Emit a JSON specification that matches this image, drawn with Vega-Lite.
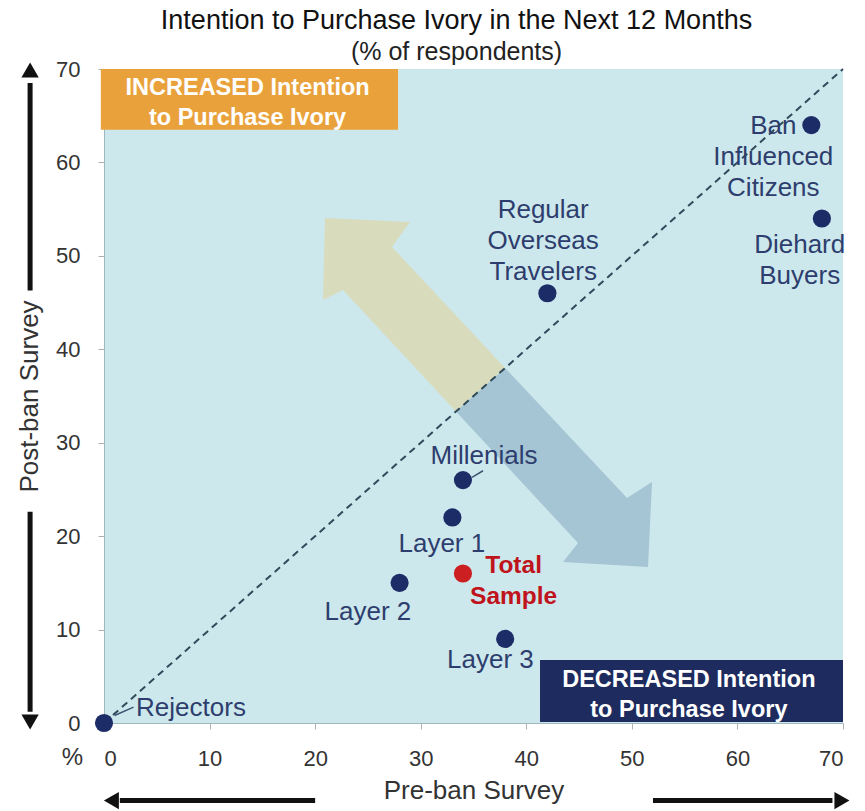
{
  "$schema": "https://vega.github.io/schema/vega-lite/v6.json",
  "width": 739,
  "height": 654,
  "autosize": "none",
  "padding": {"left": 104, "top": 69, "right": 22, "bottom": 88},
  "background": "white",
  "config": {
    "view": {"fill": "#cde8ec", "stroke": null},
    "font": "Liberation Sans",
    "axis": {
      "labelFont": "Liberation Sans",
      "titleFont": "Liberation Sans",
      "labelColor": "#333333",
      "titleColor": "#333333",
      "labelFontSize": 22,
      "titleFontSize": 26,
      "titleFontWeight": "normal",
      "domainColor": "#9fb7bf",
      "tickColor": "#b0b0b0",
      "tickSize": 6,
      "tickCount": 7,
      "grid": false
    },
    "axisX": {"labelPadding": 19, "titlePadding": 8},
    "axisY": {"labelPadding": 18, "titlePadding": 13}
  },
  "title": {
    "text": "Intention to Purchase Ivory in the Next 12 Months",
    "subtitle": "(% of respondents)",
    "font": "Liberation Sans",
    "fontSize": 27,
    "fontWeight": "normal",
    "subtitleFont": "Liberation Sans",
    "subtitleFontSize": 25,
    "color": "#111111",
    "subtitleColor": "#222222",
    "anchor": "middle",
    "frame": "group",
    "dx": -17,
    "offset": -8,
    "subtitlePadding": 5
  },
  "datasets": {
    "segments": [
      {"name": "Rejectors", "pre": 0, "post": 0, "grp": "segment", "label": "Rejectors", "lx": 8.24, "ly": 1.6},
      {"name": "Layer 2", "pre": 28, "post": 15, "grp": "segment", "label": "Layer 2", "lx": 25.0, "ly": 11.9},
      {"name": "Layer 1", "pre": 33, "post": 22, "grp": "segment", "label": "Layer 1", "lx": 32.0, "ly": 19.2},
      {"name": "Millenials", "pre": 34, "post": 26, "grp": "segment", "label": "Millenials", "lx": 36.0, "ly": 28.6},
      {"name": "Layer 3", "pre": 38, "post": 9, "grp": "segment", "label": "Layer 3", "lx": 36.6, "ly": 6.7},
      {"name": "Regular Overseas Travelers", "pre": 42, "post": 46, "grp": "segment", "label": "Regular\nOverseas\nTravelers", "lx": 41.6, "ly": 54.9},
      {"name": "Ban Influenced Citizens", "pre": 67, "post": 64, "grp": "segment", "label": "Ban\nInfluenced\nCitizens", "lx": 63.4, "ly": 63.9},
      {"name": "Diehard Buyers", "pre": 68, "post": 54, "grp": "segment", "label": "Diehard\nBuyers", "lx": 65.9, "ly": 51.2},
      {"name": "Total Sample", "pre": 34, "post": 16, "grp": "total", "label": "Total\nSample", "lx": 38.8, "ly": 16.8}
    ],
    "bigArrow": [
      {"part": "up", "i": 1, "x": 38.0, "y": 38.0},
      {"part": "up", "i": 2, "x": 27.28, "y": 50.95},
      {"part": "up", "i": 3, "x": 28.99, "y": 53.62},
      {"part": "up", "i": 4, "x": 20.93, "y": 54.05},
      {"part": "up", "i": 5, "x": 20.74, "y": 45.27},
      {"part": "up", "i": 6, "x": 22.64, "y": 46.35},
      {"part": "up", "i": 7, "x": 33.34, "y": 33.34},
      {"part": "down", "i": 1, "x": 38.0, "y": 38.0},
      {"part": "down", "i": 2, "x": 49.54, "y": 24.08},
      {"part": "down", "i": 3, "x": 51.91, "y": 25.79},
      {"part": "down", "i": 4, "x": 51.53, "y": 16.7},
      {"part": "down", "i": 5, "x": 43.48, "y": 17.23},
      {"part": "down", "i": 6, "x": 44.9, "y": 19.27},
      {"part": "down", "i": 7, "x": 33.34, "y": 33.34}
    ],
    "diagonal": [{"x": 0, "y": 0}, {"x": 70, "y": 70}],
    "boxes": [
      {"box": "increased", "x": -0.3, "x2": 27.85, "y": 63.5, "y2": 70, "text": "INCREASED Intention\nto Purchase Ivory", "tx": 13.6, "ty": 68.0},
      {"box": "decreased", "x": 41.3, "x2": 70, "y": 0.1, "y2": 6.74, "text": "DECREASED Intention\nto Purchase Ivory", "tx": 55.4, "ty": 4.6}
    ],
    "leaders": [
      {"x": 34.86, "y": 26.3, "x2": 35.9, "y2": 27.0},
      {"x": 1.0, "y": 0.8, "x2": 2.8, "y2": 1.7}
    ],
    "outerShafts": [
      {"x": -7, "y": 46.3, "x2": -7, "y2": 68.5},
      {"x": -7, "y": 22.6, "x2": -7, "y2": 1.2},
      {"x": 20, "y": -8.3, "x2": 1.5, "y2": -8.3},
      {"x": 52.0, "y": -8.3, "x2": 69.0, "y2": -8.3}
    ],
    "outerHeads": [
      {"x": -7, "y": 69.9, "dir": "up"},
      {"x": -7, "y": 0.1, "dir": "down"},
      {"x": 0.7, "y": -8.3, "dir": "left"},
      {"x": 69.9, "y": -8.3, "dir": "right"}
    ],
    "pct": [{"x": -3.0, "y": -3.75, "t": "%"}]
  },
  "layer": [
    {
      "data": {"name": "bigArrow"},
      "transform": [{"filter": "datum.part === 'up'"}],
      "mark": {"type": "line", "fill": "#d8dcbd", "strokeOpacity": 0, "interpolate": "linear"},
      "encoding": {
        "x": {"field": "x", "type": "quantitative", "title": "Pre-ban Survey", "scale": {"domain": [0, 70], "nice": false}},
        "y": {"field": "y", "type": "quantitative", "title": "Post-ban Survey", "scale": {"domain": [0, 70], "nice": false}},
        "order": {"field": "i", "type": "quantitative"}
      }
    },
    {
      "data": {"name": "bigArrow"},
      "transform": [{"filter": "datum.part === 'down'"}],
      "mark": {"type": "line", "fill": "#a5c4d4", "strokeOpacity": 0, "interpolate": "linear"},
      "encoding": {
        "x": {"field": "x", "type": "quantitative", "title": "Pre-ban Survey", "scale": {"domain": [0, 70], "nice": false}},
        "y": {"field": "y", "type": "quantitative", "title": "Post-ban Survey", "scale": {"domain": [0, 70], "nice": false}},
        "order": {"field": "i", "type": "quantitative"}
      }
    },
    {
      "data": {"name": "diagonal"},
      "mark": {"type": "line", "color": "#2f4a5a", "strokeWidth": 2, "strokeDash": [7, 5]},
      "encoding": {
        "x": {"field": "x", "type": "quantitative", "title": "Pre-ban Survey", "scale": {"domain": [0, 70], "nice": false}},
        "y": {"field": "y", "type": "quantitative", "title": "Post-ban Survey", "scale": {"domain": [0, 70], "nice": false}}
      }
    },
    {
      "data": {"name": "boxes"},
      "mark": {"type": "rect"},
      "encoding": {
        "x": {"field": "x", "type": "quantitative", "title": "Pre-ban Survey", "scale": {"domain": [0, 70], "nice": false}},
        "x2": {"field": "x2"},
        "y": {"field": "y", "type": "quantitative", "title": "Post-ban Survey", "scale": {"domain": [0, 70], "nice": false}},
        "y2": {"field": "y2"},
        "fill": {"field": "box", "type": "nominal", "scale": {"domain": ["increased", "decreased"], "range": ["#e9a23b", "#1d2b5e"]}, "legend": null}
      }
    },
    {
      "data": {"name": "boxes"},
      "mark": {"type": "text", "color": "white", "fontWeight": "bold", "fontSize": 23.5, "lineHeight": 30, "lineBreak": "\n", "align": "center", "baseline": "middle"},
      "encoding": {
        "x": {"field": "tx", "type": "quantitative", "title": "Pre-ban Survey", "scale": {"domain": [0, 70], "nice": false}},
        "y": {"field": "ty", "type": "quantitative", "title": "Post-ban Survey", "scale": {"domain": [0, 70], "nice": false}},
        "text": {"field": "text"}
      }
    },
    {
      "data": {"name": "leaders"},
      "mark": {"type": "rule", "color": "#3d5470", "strokeWidth": 1.5},
      "encoding": {
        "x": {"field": "x", "type": "quantitative", "title": "Pre-ban Survey", "scale": {"domain": [0, 70], "nice": false}},
        "y": {"field": "y", "type": "quantitative", "title": "Post-ban Survey", "scale": {"domain": [0, 70], "nice": false}},
        "x2": {"field": "x2"},
        "y2": {"field": "y2"}
      }
    },
    {
      "data": {"name": "segments"},
      "mark": {"type": "circle", "size": 330, "opacity": 1},
      "encoding": {
        "x": {"field": "pre", "type": "quantitative", "title": "Pre-ban Survey", "scale": {"domain": [0, 70], "nice": false}},
        "y": {"field": "post", "type": "quantitative", "title": "Post-ban Survey", "scale": {"domain": [0, 70], "nice": false}},
        "color": {"field": "grp", "type": "nominal", "scale": {"domain": ["segment", "total"], "range": ["#1c2c66", "#cc1f22"]}, "legend": null}
      }
    },
    {
      "data": {"name": "segments"},
      "transform": [{"filter": "datum.grp === 'segment'"}],
      "mark": {"type": "text", "fontSize": 26, "lineHeight": 31, "lineBreak": "\n", "align": "center", "baseline": "middle", "color": "#2d3e6e"},
      "encoding": {
        "x": {"field": "lx", "type": "quantitative", "title": "Pre-ban Survey", "scale": {"domain": [0, 70], "nice": false}},
        "y": {"field": "ly", "type": "quantitative", "title": "Post-ban Survey", "scale": {"domain": [0, 70], "nice": false}},
        "text": {"field": "label"}
      }
    },
    {
      "data": {"name": "segments"},
      "transform": [{"filter": "datum.grp === 'total'"}],
      "mark": {"type": "text", "fontSize": 24.5, "fontWeight": "bold", "lineHeight": 31, "lineBreak": "\n", "align": "center", "baseline": "middle", "color": "#c0141c"},
      "encoding": {
        "x": {"field": "lx", "type": "quantitative", "title": "Pre-ban Survey", "scale": {"domain": [0, 70], "nice": false}},
        "y": {"field": "ly", "type": "quantitative", "title": "Post-ban Survey", "scale": {"domain": [0, 70], "nice": false}},
        "text": {"field": "label"}
      }
    },
    {
      "data": {"name": "pct"},
      "mark": {"type": "text", "fontSize": 24, "color": "#333333", "align": "center", "baseline": "middle"},
      "encoding": {
        "x": {"field": "x", "type": "quantitative", "title": "Pre-ban Survey", "scale": {"domain": [0, 70], "nice": false}},
        "y": {"field": "y", "type": "quantitative", "title": "Post-ban Survey", "scale": {"domain": [0, 70], "nice": false}},
        "text": {"field": "t"}
      }
    },
    {
      "data": {"name": "outerShafts"},
      "mark": {"type": "rule", "color": "#111111", "strokeWidth": 5},
      "encoding": {
        "x": {"field": "x", "type": "quantitative", "title": "Pre-ban Survey", "scale": {"domain": [0, 70], "nice": false}},
        "y": {"field": "y", "type": "quantitative", "title": "Post-ban Survey", "scale": {"domain": [0, 70], "nice": false}},
        "x2": {"field": "x2"},
        "y2": {"field": "y2"}
      }
    },
    {
      "data": {"name": "outerHeads"},
      "mark": {"type": "point", "filled": true, "color": "#111111", "size": 300, "opacity": 1},
      "encoding": {
        "x": {"field": "x", "type": "quantitative", "title": "Pre-ban Survey", "scale": {"domain": [0, 70], "nice": false}},
        "y": {"field": "y", "type": "quantitative", "title": "Post-ban Survey", "scale": {"domain": [0, 70], "nice": false}},
        "shape": {"field": "dir", "type": "nominal", "scale": {"domain": ["up", "down", "left", "right"], "range": ["triangle-up", "triangle-down", "triangle-left", "triangle-right"]}, "legend": null}
      }
    }
  ]
}
